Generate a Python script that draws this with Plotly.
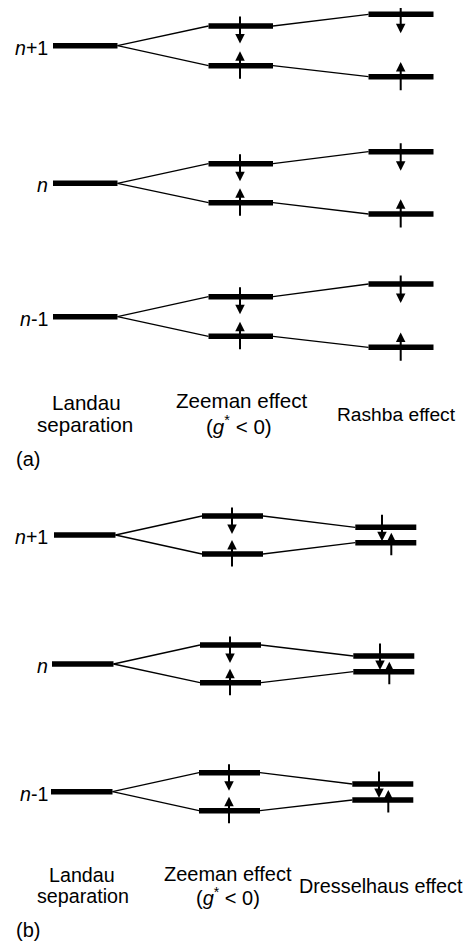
import plotly.graph_objects as go

# ---------------- data (energy levels, arbitrary units; axis is top-down) -------------
level_labels = ["<i>n</i>+1", "<i>n</i>", "<i>n</i>-1"]

# panel (a): Landau -> Zeeman -> Rashba
a_landau = [45.7, 183.3, 316.7]
a_zeeman_hi = [26.0, 163.7, 296.7]
a_zeeman_lo = [65.7, 202.7, 336.3]
a_rashba_hi = [14.3, 151.7, 284.0]
a_rashba_lo = [76.7, 214.0, 347.3]

# panel (b): Landau -> Zeeman -> Dresselhaus
b_landau = [535.0, 664.0, 791.7]
b_zeeman_hi = [516.0, 645.0, 772.7]
b_zeeman_lo = [554.0, 682.7, 810.7]
b_dress_hi = [527.3, 656.0, 784.0]
b_dress_lo = [542.7, 671.7, 800.0]

a_columns = ["Landau<br>separation", "Zeeman effect<br>(<i>g</i><sup>*</sup> &lt; 0)", "Rashba effect"]
b_columns = ["Landau<br>separation", "Zeeman effect<br>(<i>g</i><sup>*</sup> &lt; 0)", "Dresselhaus effect"]

# ---------------- layout constants -------------
FONT = "Liberation Sans, Arial, sans-serif"
BAR_W = 5.5
THIN_W = 1.3
PAGE_MARGIN = 8  # default body margin of the html page

fig = go.Figure()
annotations = []


def bar(x0, x1, y):
    fig.add_trace(go.Scatter(x=[x0, x1], y=[y, y], mode="lines",
                             line=dict(color="black", width=BAR_W), hoverinfo="skip"))


def thin(x0, y0, x1, y1):
    fig.add_trace(go.Scatter(x=[x0, x1], y=[y0, y1], mode="lines",
                             line=dict(color="black", width=THIN_W), hoverinfo="skip"))


def arrow(x, y_tail, y_tip):
    annotations.append(dict(x=x, y=y_tip, ax=x, ay=y_tail, xref="x", yref="y",
                            axref="x", ayref="y", text="", showarrow=True,
                            arrowhead=2, arrowsize=0.95, arrowwidth=2,
                            arrowcolor="black", standoff=0))


def label(x, y, text, size, xanchor="center"):
    annotations.append(dict(x=x, y=y, xref="x", yref="y", text=text, showarrow=False,
                            xanchor=xanchor, yanchor="middle",
                            font=dict(family=FONT, size=size, color="black")))


# ----- panel (a)
aL = (53, 117.5)
aZ = (208.5, 273)
aR = (368.5, 433.5)
aZx, aRx = 240, 400.7
for i in range(3):
    L, zh, zl, rh, rl = a_landau[i], a_zeeman_hi[i], a_zeeman_lo[i], a_rashba_hi[i], a_rashba_lo[i]
    thin(aL[1], L, aZ[0], zh)
    thin(aL[1], L, aZ[0], zl)
    thin(aZ[1], zh, aR[0], rh)
    thin(aZ[1], zl, aR[0], rl)
    bar(*aL, L)
    bar(*aZ, zh)
    bar(*aZ, zl)
    bar(*aR, rh)
    bar(*aR, rl)
    arrow(aZx, zh - 11, zh + 17.5)
    arrow(aZx, zl + 14.5, zl - 14.5)
    arrow(aRx, rh - 10, rh + 19)
    arrow(aRx, rl + 15, rl - 14.7)
    label(50, L + 2, level_labels[i], 19.6, xanchor="right")

# ----- panel (b)
bL = (52, 113.5)
bZ = (200, 261)
bD = (353.3, 414.3)
bZx, bDdx, bDux = 230, 380, 389.3
skew = [2, 0, -1]
for i in range(3):
    s = skew[i]
    L, zh, zl, dh, dl = b_landau[i], b_zeeman_hi[i], b_zeeman_lo[i], b_dress_hi[i], b_dress_lo[i]
    thin(bL[1] + s, L, bZ[0] + s, zh)
    thin(bL[1] + s, L, bZ[0] + s, zl)
    thin(bZ[1] + s, zh, bD[0] + s, dh)
    thin(bZ[1] + s, zl, bD[0] + s, dl)
    bar(bL[0] + s, bL[1] + s, L)
    bar(bZ[0] + s, bZ[1] + s, zh)
    bar(bZ[0] + s, bZ[1] + s, zl)
    bar(bD[0] + s, bD[1] + s, dh)
    bar(bD[0] + s, bD[1] + s, dl)
    arrow(bZx + s, zh - 10, zh + 18)
    arrow(bZx + s, zl + 14, zl - 14)
    arrow(bDdx + s, dh - 14, dh + 14)
    arrow(bDux + s, dl + 14, dl - 10)
    label(50, L + 2, level_labels[i], 19.6, xanchor="right")

# ----- column captions: (x per line, y per line, size)
a_caption_pos = [((86.2, 85.3), (402.5, 424.3), 20.6),
                 ((241.5, 239.0), (400.5, 424.5), 20.6),
                 ((396.0,), (414.8,), 19.2)]
b_caption_pos = [((82.2, 83.2), (875.0, 896.3), 19.7),
                 ((227.8, 228.3), (873.5, 896.5), 20.0),
                 ((381.3,), (885.5,), 19.8)]
for cols, pos in ((a_columns, a_caption_pos), (b_columns, b_caption_pos)):
    for col, (xs, ys, size) in zip(cols, pos):
        for line, x, y in zip(col.split("<br>"), xs, ys):
            label(x, y, line, size)

label(14, 459, "(a)", 20, xanchor="left")
label(14, 930, "(b)", 20, xanchor="left")

W, H = 472, 947
fig.update_layout(
    width=W - PAGE_MARGIN, height=H - PAGE_MARGIN,
    margin=dict(l=0, r=0, t=0, b=0, pad=0),
    paper_bgcolor="white", plot_bgcolor="white",
    showlegend=False,
    xaxis=dict(range=[PAGE_MARGIN, W], visible=False, fixedrange=True),
    yaxis=dict(range=[H, PAGE_MARGIN], visible=False, fixedrange=True),
    annotations=annotations,
)

fig.write_html("out.html")
